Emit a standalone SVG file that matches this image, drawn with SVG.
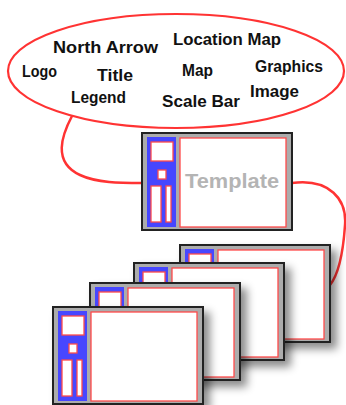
<svg xmlns="http://www.w3.org/2000/svg" xmlns:xlink="http://www.w3.org/1999/xlink" width="346" height="405" viewBox="0 0 346 405">
<style>
.lbl{font-family:"Liberation Sans",Arial,sans-serif;font-weight:bold;font-size:16.5px;fill:#111}
.conn{fill:none;stroke:#ff3333;stroke-width:2.5;stroke-linecap:round}
.bubble{fill:#fff;stroke:#ff3333;stroke-width:2.2}
.frame{fill:#acacac;stroke:#222;stroke-width:2}
.side{fill:#4646ff}
.box{fill:#fff;stroke:#ff4a4a;stroke-width:1.3}
.tpl{font-family:"Liberation Sans",Arial,sans-serif;font-weight:bold;font-size:20px;fill:#b4b4b4}
</style>
<defs>
<filter id="sh" x="-20%" y="-20%" width="150%" height="150%">
<feDropShadow dx="6" dy="6" stdDeviation="4" flood-color="#000" flood-opacity="0.45"/>
</filter>
<g id="card">
<rect class="frame" x="0" y="0" width="150" height="97"/>
<rect class="side" x="5" y="4" width="29" height="90"/>
<rect class="box" x="38" y="5" width="106" height="89"/>
<rect class="box" x="9" y="9" width="22" height="19"/>
<rect class="box" x="16" y="37" width="8" height="9"/>
<rect class="box" x="9" y="53" width="10" height="36"/>
<rect class="box" x="24" y="53" width="5" height="36"/>
</g>
</defs>
<rect width="346" height="405" fill="#fff"/>
<g id="connectors">
<path class="conn" d="M72 116 C62 135 52 162 80 175 C97 183 120 183 142 183"/>
<path class="conn" d="M292 183 C330 178 347 200 345 225 C343 255 338 275 330 285"/>
</g>
<g id="bubble">
<ellipse class="bubble" cx="176" cy="71" rx="168" ry="57"/>
<text class="lbl" x="53" y="53" textLength="105" lengthAdjust="spacingAndGlyphs">North Arrow</text>
<text class="lbl" x="173" y="45" textLength="108" lengthAdjust="spacingAndGlyphs">Location Map</text>
<text class="lbl" x="22" y="77" textLength="35" lengthAdjust="spacingAndGlyphs">Logo</text>
<text class="lbl" x="97" y="81" textLength="36" lengthAdjust="spacingAndGlyphs">Title</text>
<text class="lbl" x="182" y="76" textLength="31" lengthAdjust="spacingAndGlyphs">Map</text>
<text class="lbl" x="255" y="72" textLength="68" lengthAdjust="spacingAndGlyphs">Graphics</text>
<text class="lbl" x="71" y="103" textLength="55" lengthAdjust="spacingAndGlyphs">Legend</text>
<text class="lbl" x="162" y="107" textLength="78" lengthAdjust="spacingAndGlyphs">Scale Bar</text>
<text class="lbl" x="250" y="97" textLength="49" lengthAdjust="spacingAndGlyphs">Image</text>
</g>
<g id="template">
<use xlink:href="#card" href="#card" x="142" y="133"/>
<text class="tpl" x="185" y="188" textLength="94" lengthAdjust="spacingAndGlyphs">Template</text>
</g>
<g id="copy4" filter="url(#sh)"><use xlink:href="#card" href="#card" x="180" y="245"/></g>
<g id="copy3" filter="url(#sh)"><use xlink:href="#card" href="#card" x="134" y="263"/></g>
<g id="copy2" filter="url(#sh)"><use xlink:href="#card" href="#card" x="90" y="283"/></g>
<g id="copy1" filter="url(#sh)"><use xlink:href="#card" href="#card" x="53" y="307"/></g>
</svg>
